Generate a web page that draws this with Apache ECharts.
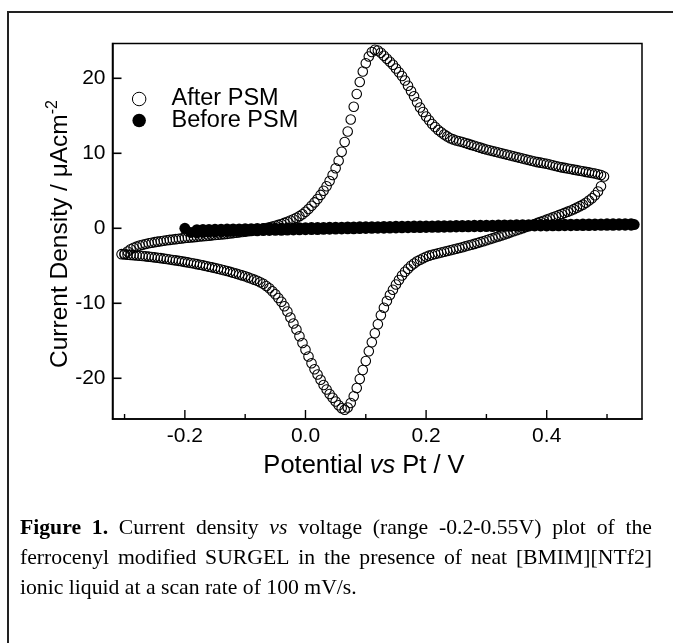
<!DOCTYPE html>
<html>
<head>
<meta charset="utf-8">
<script src="https://cdn.jsdelivr.net/npm/echarts@6.0.0/dist/echarts.min.js"></script>
<style>
html,body{margin:0;padding:0;background:#fff;}
#chart{width:673px;height:643px;}
</style>
</head>
<body>
<div id="chart"></div>
<script>
// ---- data (potential V vs Pt, current density µA/cm²) ----
const potentialTickValues = [-0.2, 0.0, 0.2, 0.4];
const potentialMinorTickValues = [-0.3, -0.1, 0.1, 0.3, 0.5];
const currentTickValues = [-20, -10, 0, 10, 20];
const seriesNames = ['After PSM', 'Before PSM'];

const afterPSMAnodic = [
[-0.300,-3.40],[-0.295,-3.10],[-0.290,-2.80],[-0.285,-2.60],[-0.280,-2.45],[-0.275,-2.30],[-0.270,-2.20],[-0.265,-2.10],[-0.260,-2.00],[-0.255,-1.92],
[-0.250,-1.85],[-0.245,-1.78],[-0.240,-1.72],[-0.235,-1.66],[-0.230,-1.60],[-0.225,-1.55],[-0.220,-1.50],[-0.215,-1.45],[-0.210,-1.40],[-0.205,-1.35],
[-0.200,-1.30],[-0.195,-1.26],[-0.190,-1.22],[-0.185,-1.18],[-0.180,-1.14],[-0.175,-1.10],[-0.170,-1.06],[-0.165,-1.02],[-0.160,-0.98],[-0.155,-0.94],
[-0.150,-0.90],[-0.145,-0.86],[-0.140,-0.82],[-0.135,-0.78],[-0.130,-0.74],[-0.125,-0.69],[-0.120,-0.64],[-0.115,-0.59],[-0.110,-0.54],[-0.105,-0.49],
[-0.100,-0.44],[-0.095,-0.38],[-0.090,-0.32],[-0.085,-0.26],[-0.080,-0.20],[-0.075,-0.13],[-0.070,-0.05],[-0.065,0.03],[-0.060,0.12],[-0.055,0.22],
[-0.050,0.33],[-0.045,0.45],[-0.040,0.58],[-0.035,0.72],[-0.030,0.87],[-0.025,1.03],[-0.020,1.20],[-0.015,1.40],[-0.010,1.62],[-0.005,1.88],
[0.000,2.20],[0.005,2.58],[0.010,3.00],[0.015,3.45],[0.020,3.90],[0.025,4.45],[0.030,5.00],[0.035,5.60],[0.040,6.30],[0.045,7.10],
[0.050,8.00],[0.055,9.00],[0.060,10.2],[0.065,11.5],[0.070,12.9],[0.075,14.5],[0.080,16.2],[0.085,17.9],[0.090,19.5],[0.095,20.9],
[0.100,22.0],[0.105,22.9],[0.110,23.5],[0.115,23.8],[0.120,23.7],[0.125,23.4],[0.130,23.0],[0.135,22.6],[0.140,22.2],[0.145,21.8],
[0.150,21.3],[0.155,20.8],[0.160,20.3],[0.165,19.7],[0.170,19.0],[0.175,18.3],[0.180,17.6],[0.185,16.8],[0.190,16.1],[0.195,15.5],
[0.200,14.9],[0.205,14.4],[0.210,13.9],[0.215,13.5],[0.220,13.1],[0.225,12.8],[0.230,12.5],[0.235,12.25],[0.240,12.0],[0.245,11.85],
[0.250,11.7],[0.255,11.6],[0.260,11.5],[0.265,11.37],[0.270,11.25],[0.275,11.12],[0.280,11.0],[0.285,10.87],[0.290,10.75],[0.295,10.62],
[0.300,10.5],[0.305,10.4],[0.310,10.3],[0.315,10.2],[0.320,10.1],[0.325,10.0],[0.330,9.9],[0.335,9.8],[0.340,9.7],[0.345,9.6],
[0.350,9.5],[0.355,9.4],[0.360,9.3],[0.365,9.2],[0.370,9.1],[0.375,9.0],[0.380,8.9],[0.385,8.82],[0.390,8.75],[0.395,8.67],
[0.400,8.6],[0.405,8.5],[0.410,8.4],[0.415,8.3],[0.420,8.2],[0.425,8.12],[0.430,8.05],[0.435,7.97],[0.440,7.9],[0.445,7.82],
[0.450,7.75],[0.455,7.67],[0.460,7.6],[0.465,7.52],[0.470,7.45],[0.475,7.37],[0.480,7.3],[0.485,7.2],[0.490,7.1],[0.495,6.9]
];

const afterPSMCathodic = [
[0.490,5.6],[0.485,4.9],[0.480,4.4],[0.475,4.0],[0.470,3.7],[0.465,3.4],[0.460,3.15],[0.455,2.95],[0.450,2.75],[0.445,2.55],
[0.440,2.38],[0.435,2.22],[0.430,2.06],[0.425,1.9],[0.420,1.75],[0.415,1.6],[0.410,1.45],[0.405,1.3],[0.400,1.15],[0.395,1.0],
[0.390,0.86],[0.385,0.72],[0.380,0.58],[0.375,0.44],[0.370,0.3],[0.365,0.16],[0.360,0.02],[0.355,-0.12],[0.350,-0.26],[0.345,-0.4],
[0.340,-0.54],[0.335,-0.68],[0.330,-0.82],[0.325,-0.95],[0.320,-1.08],[0.315,-1.21],[0.310,-1.34],[0.305,-1.47],[0.300,-1.6],[0.295,-1.72],
[0.290,-1.84],[0.285,-1.96],[0.280,-2.08],[0.275,-2.19],[0.270,-2.3],[0.265,-2.41],[0.260,-2.52],[0.255,-2.62],[0.250,-2.72],[0.245,-2.82],
[0.240,-2.92],[0.235,-3.02],[0.230,-3.12],[0.225,-3.22],[0.220,-3.32],[0.215,-3.42],[0.210,-3.53],[0.205,-3.65],[0.200,-3.8],[0.195,-4.0],
[0.190,-4.2],[0.185,-4.4],[0.180,-4.7],[0.175,-5.0],[0.170,-5.4],[0.165,-5.8],[0.160,-6.3],[0.155,-6.9],[0.150,-7.5],[0.145,-8.2],
[0.140,-8.9],[0.135,-9.7],[0.130,-10.6],[0.125,-11.6],[0.120,-12.8],[0.115,-14.0],[0.110,-15.2],[0.105,-16.4],[0.100,-17.7],[0.095,-18.9],
[0.090,-20.1],[0.085,-21.3],[0.080,-22.4],[0.075,-23.3],[0.070,-23.9],[0.065,-24.2],[0.060,-24.0],[0.055,-23.6],[0.050,-23.1],[0.045,-22.6],
[0.040,-22.1],[0.035,-21.5],[0.030,-20.9],[0.025,-20.2],[0.020,-19.5],[0.015,-18.8],[0.010,-18.0],[0.005,-17.1],[0.000,-16.2],[-0.005,-15.3],
[-0.010,-14.4],[-0.015,-13.5],[-0.020,-12.7],[-0.025,-11.9],[-0.030,-11.1],[-0.035,-10.4],[-0.040,-9.8],[-0.045,-9.3],[-0.050,-8.8],[-0.055,-8.4],
[-0.060,-8.0],[-0.065,-7.7],[-0.070,-7.4],[-0.075,-7.2],[-0.080,-7.0],[-0.085,-6.85],[-0.090,-6.7],[-0.095,-6.55],[-0.100,-6.4],[-0.105,-6.28],
[-0.110,-6.16],[-0.115,-6.04],[-0.120,-5.92],[-0.125,-5.81],[-0.130,-5.7],[-0.135,-5.6],[-0.140,-5.5],[-0.145,-5.4],[-0.150,-5.3],[-0.155,-5.21],
[-0.160,-5.12],[-0.165,-5.03],[-0.170,-4.94],[-0.175,-4.86],[-0.180,-4.78],[-0.185,-4.7],[-0.190,-4.62],[-0.195,-4.55],[-0.200,-4.48],[-0.205,-4.41],
[-0.210,-4.34],[-0.215,-4.28],[-0.220,-4.22],[-0.225,-4.16],[-0.230,-4.1],[-0.235,-4.04],[-0.240,-3.98],[-0.245,-3.93],[-0.250,-3.88],[-0.255,-3.83],
[-0.260,-3.78],[-0.265,-3.74],[-0.270,-3.7],[-0.275,-3.66],[-0.280,-3.62],[-0.285,-3.58],[-0.290,-3.55],[-0.295,-3.52],[-0.300,-3.5],[-0.305,-3.45]
];

const beforePSMForward = [
[-0.20,0.00],[-0.19,-0.55],[-0.18,-0.62],[-0.17,-0.55],[-0.16,-0.50],[-0.15,-0.47],[-0.14,-0.44],[-0.13,-0.42],[-0.12,-0.40],[-0.11,-0.38],
[-0.10,-0.36],[-0.09,-0.34],[-0.08,-0.33],[-0.07,-0.31],[-0.06,-0.29],[-0.05,-0.27],[-0.04,-0.26],[-0.03,-0.24],[-0.02,-0.22],[-0.01,-0.21],
[0.00,-0.19],[0.01,-0.17],[0.02,-0.16],[0.03,-0.14],[0.04,-0.12],[0.05,-0.11],[0.06,-0.09],[0.07,-0.07],[0.08,-0.06],[0.09,-0.04],
[0.10,-0.02],[0.11,-0.01],[0.12,0.01],[0.13,0.02],[0.14,0.04],[0.15,0.05],[0.16,0.06],[0.17,0.08],[0.18,0.09],[0.19,0.10],
[0.20,0.12],[0.21,0.13],[0.22,0.14],[0.23,0.15],[0.24,0.17],[0.25,0.18],[0.26,0.19],[0.27,0.20],[0.28,0.21],[0.29,0.22],
[0.30,0.23],[0.31,0.24],[0.32,0.25],[0.33,0.26],[0.34,0.27],[0.35,0.28],[0.36,0.29],[0.37,0.30],[0.38,0.31],[0.39,0.32],
[0.40,0.32],[0.41,0.33],[0.42,0.34],[0.43,0.35],[0.44,0.35],[0.45,0.36],[0.46,0.37],[0.47,0.37],[0.48,0.38],[0.49,0.39],
[0.50,0.39],[0.51,0.40],[0.52,0.41],[0.53,0.41],[0.54,0.42],[0.545,0.50]
];

const beforePSMReverse = [
[0.54,0.62],[0.53,0.61],[0.52,0.60],[0.51,0.60],[0.50,0.59],[0.49,0.58],[0.48,0.57],[0.47,0.57],[0.46,0.56],[0.45,0.55],
[0.44,0.54],[0.43,0.53],[0.42,0.53],[0.41,0.52],[0.40,0.51],[0.39,0.50],[0.38,0.49],[0.37,0.48],[0.36,0.47],[0.35,0.46],
[0.34,0.45],[0.33,0.44],[0.32,0.43],[0.31,0.42],[0.30,0.41],[0.29,0.40],[0.28,0.39],[0.27,0.38],[0.26,0.37],[0.25,0.36],
[0.24,0.35],[0.23,0.34],[0.22,0.33],[0.21,0.32],[0.20,0.31],[0.19,0.30],[0.18,0.29],[0.17,0.28],[0.16,0.27],[0.15,0.26],
[0.14,0.25],[0.13,0.24],[0.12,0.22],[0.11,0.21],[0.10,0.20],[0.09,0.19],[0.08,0.18],[0.07,0.17],[0.06,0.15],[0.05,0.14],
[0.04,0.13],[0.03,0.12],[0.02,0.10],[0.01,0.09],[0.00,0.08],[-0.01,0.06],[-0.02,0.05],[-0.03,0.04],[-0.04,0.02],[-0.05,0.01],
[-0.06,0.00],[-0.07,-0.02],[-0.08,-0.03],[-0.09,-0.05],[-0.10,-0.06],[-0.11,-0.08],[-0.12,-0.09],[-0.13,-0.11],[-0.14,-0.12],[-0.15,-0.14],
[-0.16,-0.15],[-0.17,-0.17],[-0.18,-0.19]
];

const captionLines = [
  {justify:true, words:[['Figure','b'],['1.','b'],['Current'],['density'],['vs','i'],['voltage'],['(range'],['-0.2-0.55V)'],['plot'],['of'],['the']]},
  {justify:true, words:[['ferrocenyl'],['modified'],['SURGEL'],['in'],['the'],['presence'],['of'],['neat'],['[BMIM][NTf2]']]},
  {justify:false, words:[['ionic'],['liquid'],['at'],['a'],['scan'],['rate'],['of'],['100'],['mV/s.']]}
];

// ---- layout ----
const SANS = "'Liberation Sans', Arial, sans-serif";
const SERIF = "'Liberation Serif', 'Times New Roman', serif";
const X_MIN = -0.32, X_MAX = 0.558, Y_MIN = -25.43, Y_MAX = 24.64;

function buildCaption() {
  const ctx = document.createElement('canvas').getContext('2d');
  const size = 21.7;
  const fontOf = s => (s === 'b' ? 'bold ' : s === 'i' ? 'italic ' : '') + size + 'px ' + SERIF;
  const L = 20, R = 652;
  const ys = [528, 558, 588];
  const els = [];
  captionLines.forEach((line, li) => {
    const widths = line.words.map(w => { ctx.font = fontOf(w[1]); return ctx.measureText(w[0]).width; });
    const total = widths.reduce((a, b) => a + b, 0);
    ctx.font = fontOf();
    const space = ctx.measureText(' ').width;
    const gap = line.justify ? (R - L - total) / (line.words.length - 1) : space;
    let x = L;
    line.words.forEach((w, i) => {
      els.push({type: 'text', x: x, y: ys[li], silent: true,
        style: {text: w[0], font: fontOf(w[1]), fill: '#000', textVerticalAlign: 'middle', verticalAlign: 'middle'}});
      x += widths[i] + gap;
    });
  });
  return els;
}

// inward tick marks drawn through the axes' own scales
function xTickSeries(values, len) {
  return {type: 'custom', name: 'xticks' + len, coordinateSystem: 'cartesian2d', silent: true, clip: false, z: 6,
    data: values.map(v => [v, Y_MIN]),
    renderItem: (params, api) => {
      const p = api.coord([api.value(0), api.value(1)]);
      return {type: 'line', shape: {x1: p[0], y1: p[1], x2: p[0], y2: p[1] - len}, style: {stroke: '#000', lineWidth: 1.4}};
    }};
}
function yTickSeries(values, len) {
  return {type: 'custom', name: 'yticks', coordinateSystem: 'cartesian2d', silent: true, clip: false, z: 6,
    data: values.map(v => [X_MIN, v]),
    renderItem: (params, api) => {
      const p = api.coord([api.value(0), api.value(1)]);
      return {type: 'line', shape: {x1: p[0], y1: p[1], x2: p[0] + len, y2: p[1]}, style: {stroke: '#000', lineWidth: 1.6}};
    }};
}

const chart = echarts.init(document.getElementById('chart'), null, {renderer: 'canvas'});

const axisLineStyle = {color: '#000', width: 1.5};

const option = {
  animation: false,
  backgroundColor: '#fff',
  grid: {left: 112.5, right: 31, top: 43.5, bottom: 224, show: true, borderColor: '#000', borderWidth: 1.5, backgroundColor: 'transparent'},
  xAxis: {type: 'value', min: X_MIN, max: X_MAX, position: 'bottom',
     axisLine: {show: true, onZero: false, lineStyle: axisLineStyle},
     splitLine: {show: false},
     axisTick: {show: false},
     axisLabel: {customValues: potentialTickValues, formatter: v => v.toFixed(1), fontSize: 21, color: '#000', fontFamily: SANS, margin: 7}},
  yAxis: {type: 'value', min: Y_MIN, max: Y_MAX,
    axisLine: {show: true, onZero: false, lineStyle: axisLineStyle},
    splitLine: {show: false},
    axisTick: {show: false},
    axisLabel: {customValues: currentTickValues, fontSize: 21, color: '#000', fontFamily: SANS, margin: 7}},
  legend: {
    orient: 'vertical', left: 126.9, top: 82, itemWidth: 54.8, itemHeight: 13.5, itemGap: -2.5,
    textStyle: {fontSize: 23.5, fontFamily: SANS, color: '#000', lineHeight: 22},
    data: [
      {name: seriesNames[0], icon: 'circle', itemStyle: {color: '#fff', borderColor: '#000', borderWidth: 1, opacity: 1}},
      {name: seriesNames[1], icon: 'circle', itemStyle: {color: '#000', opacity: 1}}
    ]
  },
  series: [
    {name: seriesNames[0], type: 'scatter', symbol: 'circle', symbolSize: 9.5,
     data: afterPSMAnodic.concat(afterPSMCathodic),
     itemStyle: {color: 'rgba(255,255,255,0)', borderColor: '#000', borderWidth: 1.1, opacity: 1}, z: 2},
    {name: seriesNames[1], type: 'scatter', symbol: 'circle', symbolSize: 11,
     data: beforePSMForward.concat(beforePSMReverse),
     itemStyle: {color: '#000', opacity: 1}, z: 3},
    xTickSeries(potentialTickValues, 9),
    xTickSeries(potentialMinorTickValues, 5),
    yTickSeries(currentTickValues, 9)
  ],
  graphic: [
    {type: 'rect', silent: true, shape: {x: 8, y: 12, width: 720, height: 720}, style: {fill: null, stroke: '#222', lineWidth: 2}},
    {type: 'text', x: 60, y: 234, rotation: Math.PI / 2, silent: true,
     style: {text: '{a|Current Density / μAcm}{s|-2}',
       rich: {a: {fontSize: 24.5, fontFamily: SANS, fill: '#000', lineHeight: 30},
              s: {fontSize: 16, fontFamily: SANS, fill: '#000', verticalAlign: 'top', lineHeight: 16}},
       align: 'center', verticalAlign: 'middle', textAlign: 'center', textVerticalAlign: 'middle'}},
    {type: 'text', x: 364, y: 466, silent: true,
     style: {text: '{a|Potential }{i|vs}{a| Pt / V}',
       rich: {a: {fontSize: 25.5, fontFamily: SANS, fill: '#000'},
              i: {fontSize: 25.5, fontFamily: SANS, fontStyle: 'italic', fill: '#000'}},
       align: 'center', verticalAlign: 'middle', textAlign: 'center', textVerticalAlign: 'middle'}}
  ].concat(buildCaption())
};

chart.setOption(option);
</script>
</body>
</html>
